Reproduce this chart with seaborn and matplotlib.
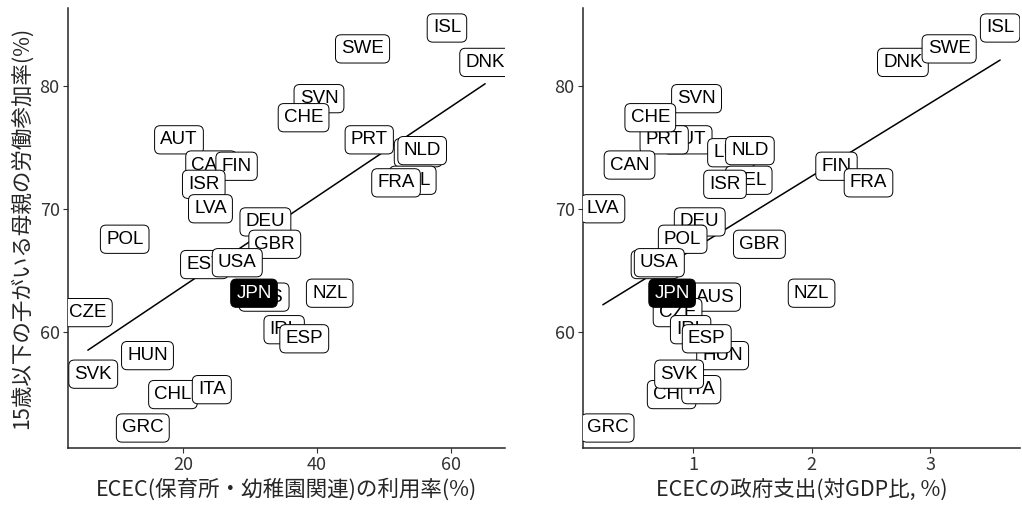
import numpy as np
import pandas as pd
import matplotlib
matplotlib.use("Agg")
import matplotlib.pyplot as plt
import seaborn as sns

# 描画順（後ろほど上に重なる）
countries = ["DNK", "SWE", "ISL", "SVN", "AUT", "PRT", "CHE", "LUX", "NLD", "CAN",
             "FIN", "BEL", "ISR", "FRA", "LVA", "DEU", "GBR", "POL", "EST", "USA",
             "AUS", "CZE", "IRL", "HUN", "ESP", "NZL", "CHL", "ITA", "SVK", "GRC", "JPN"]
# ECEC利用率(%)
ecec_use = [65.1, 46.8, 59.4, 40.3, 19.4, 47.8, 38.0, 55.1, 55.7, 24.2,
            28.0, 54.3, 23.1, 51.8, 24.1, 32.3, 33.7, 11.3, 23.2, 28.1,
            32.1, 5.8, 35.1, 14.7, 38.1, 41.9, 18.5, 24.3, 6.6, 14.0, 30.6]
# ECEC政府支出(対GDP比, %)
ecec_spend = [2.77, 3.16, 3.59, 1.03, 0.955, 0.757, 0.64, 1.325, 1.48, 0.465,
              2.21, 1.47, 1.27, 2.48, 0.24, 1.057, 1.56, 0.913, 0.68, 0.716,
              1.19, 0.87, 0.98, 1.25, 1.116, 2.0, 0.82, 1.07, 0.883, 0.28, 0.824]
# 15歳以下の子がいる母親の労働参加率(%)
mother_lfp = [81.95, 83.05, 84.75, 79.0, 75.65, 75.65, 77.45, 74.6, 74.77, 73.6,
              73.5, 72.36, 72.03, 72.15, 70.04, 68.97, 67.15, 67.56, 65.5, 65.65,
              62.85, 61.59, 60.2, 58.09, 59.46, 63.17, 54.92, 55.32, 56.58, 52.2, 63.17]

df = pd.DataFrame({"country": countries, "use": ecec_use,
                   "spend": ecec_spend, "lfp": mother_lfp})

sns.set_style("ticks")
plt.rcParams['font.family'] = ['Noto Sans CJK JP', 'DejaVu Sans']
plt.rcParams['axes.linewidth'] = 1.1
plt.rcParams['xtick.major.width'] = 0.8
plt.rcParams['ytick.major.width'] = 0.8
plt.rcParams['xtick.major.size'] = 3.5
plt.rcParams['ytick.major.size'] = 3.5

fig = plt.figure(figsize=(10.22, 5.05), dpi=100)
W, H = 1022, 505
ax1 = fig.add_axes([68 / W, 1 - 448 / H, (505 - 68) / W, 440 / H])
ax2 = fig.add_axes([583 / W, 1 - 448 / H, (1020 - 583) / W, 440 / H])


def lims(v):
    lo, hi = min(v), max(v)
    pad = (hi - lo) * 0.05
    return lo - pad, hi + pad


panels = [(ax1, "use", "ECEC(保育所・幼稚園関連)の利用率(%)", [20, 40, 60]),
          (ax2, "spend", "ECECの政府支出(対GDP比, %)", [1, 2, 3])]

for ax, col, xlabel, xt in panels:
    sns.regplot(data=df, x=col, y="lfp", scatter=False, ci=None, color="black",
                line_kws={"lw": 1.1}, ax=ax)
    for i, r in df.iterrows():
        jp = r["country"] == "JPN"
        ax.text(r[col], r["lfp"], r["country"], ha="center", va="center",
                fontsize=13.5, family="Liberation Sans",
                color="white" if jp else "black", zorder=3 + i * 0.01,
                clip_on=True,
                bbox=dict(boxstyle="round,pad=0.3,rounding_size=0.3",
                          fc="black" if jp else "white", ec="black", lw=0.7))
    ax.set_xlim(lims(df[col]))
    ax.set_ylim(lims(df["lfp"]))
    ax.set_xticks(xt)
    ax.set_yticks([60, 70, 80])
    ax.tick_params(labelsize=13, labelcolor="#333333", color="#333333", pad=2.5)
    ax.set_xlabel(xlabel, fontsize=15.5, labelpad=3)
    ax.set_ylabel("")
    sns.despine(ax=ax)

ax1.set_ylabel("15歳以下の子がいる母親の労働参加率(%)", fontsize=15.5, labelpad=5)

fig.savefig("out.png", dpi=100)
